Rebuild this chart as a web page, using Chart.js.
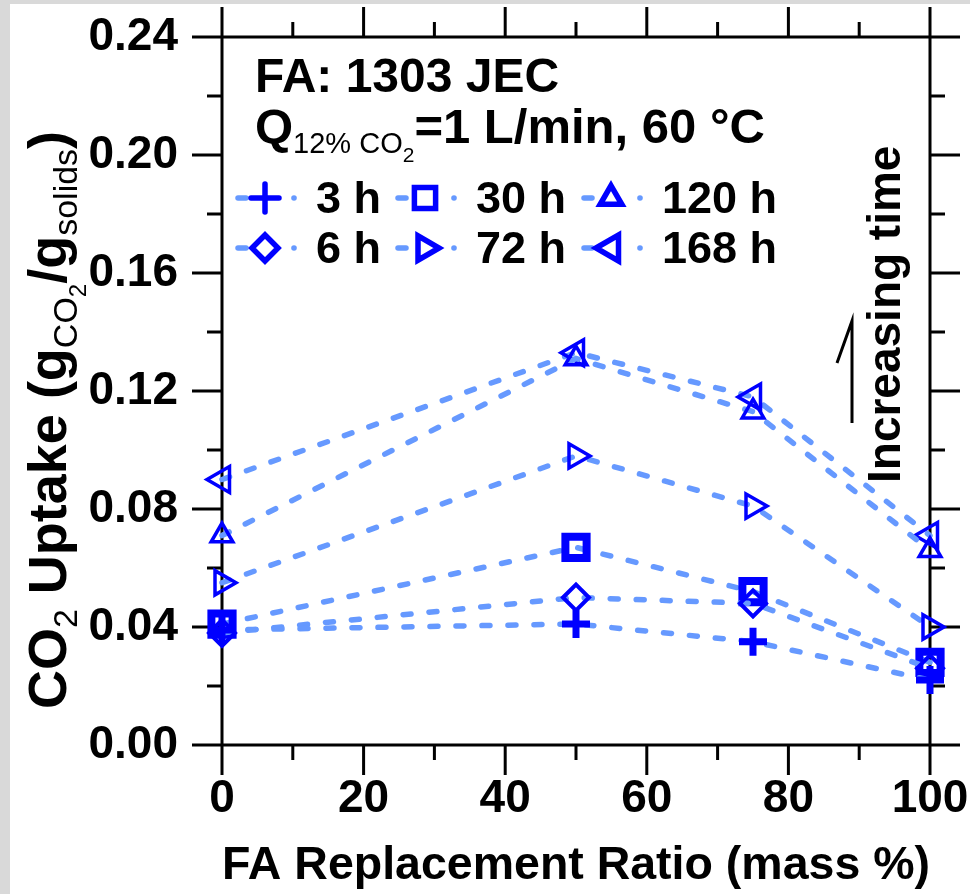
<!DOCTYPE html>
<html>
<head>
<meta charset="utf-8">
<script src="https://cdn.jsdelivr.net/npm/chart.js@4.4.1/dist/chart.umd.min.js"></script>
<style>
  html, body { margin: 0; padding: 0; background: #fff; }
  canvas { display: block; }
</style>
</head>
<body>
<canvas id="chart" width="970" height="894"></canvas>
<script>
// FA replacement ratio (mass %) and CO2 uptake per curing time
const ratios = [0, 50, 75, 100];
const uptake3h = [0.039, 0.041, 0.035, 0.022];
const uptake6h = [0.038, 0.050, 0.048, 0.026];
const uptake30h = [0.041, 0.067, 0.052, 0.028];
const uptake72h = [0.055, 0.098, 0.081, 0.040];
const uptake120h = [0.071, 0.131, 0.113, 0.066];
const uptake168h = [0.090, 0.133, 0.118, 0.071];
const seriesLabels = ['3 h', '6 h', '30 h', '72 h', '120 h', '168 h'];
const xTicks = [0, 20, 40, 60, 80, 100];
const yTicks = [0.00, 0.04, 0.08, 0.12, 0.16, 0.20, 0.24];

const FONT = "'Liberation Sans', Arial, sans-serif";
const lineBlue = 'rgb(102,153,255)';
const markBlue = '#0000ff';

const markers = [
  {style: 'cross', radius: 14, width: 7, rot: 0},
  {style: 'rectRot', radius: 13, width: 4, rot: 0},
  {style: 'rect', radius: 15, width: 8, rot: 0},
  {style: 'triangle', radius: 14, width: 3.5, rot: 90},
  {style: 'triangle', radius: 12.5, width: 3.5, rot: 0},
  {style: 'triangle', radius: 15, width: 3.5, rot: -90}
];
const allSeries = [uptake3h, uptake6h, uptake30h, uptake72h, uptake120h, uptake168h];

const datasets = allSeries.map((vals, i) => ({
  label: seriesLabels[i],
  data: ratios.map((r, j) => ({x: r, y: vals[j]})),
  borderColor: lineBlue,
  borderWidth: 5.5,
  borderDash: [8, 18],
  borderCapStyle: 'round',
  tension: 0,
  fill: false,
  clip: false,
  pointStyle: markers[i].style,
  pointRadius: markers[i].radius,
  pointBorderWidth: markers[i].width,
  pointRotation: markers[i].rot,
  pointBorderColor: markBlue,
  pointBackgroundColor: 'rgba(0,0,0,0)'
}));

function drawRich(c, parts, x, y) {
  // parts: [text, font, dy]
  let cx = x;
  parts.forEach(p => {
    c.font = p[1];
    c.fillText(p[0], cx, y + p[2]);
    cx += c.measureText(p[0]).width;
  });
  return cx - x;
}

function richWidth(c, parts) {
  let w = 0;
  parts.forEach(p => { c.font = p[1]; w += c.measureText(p[0]).width; });
  return w;
}

function noPad(s) {
  s.paddingTop = 0; s.paddingBottom = 0; s.paddingLeft = 0; s.paddingRight = 0;
}

const decor = {
  id: 'decor',
  beforeDraw(chart) {
    const c = chart.ctx;
    c.save();
    c.fillStyle = '#d9d9d9';
    c.fillRect(0, 0, chart.width, chart.height);
    c.fillStyle = '#fff';
    c.fillRect(10, 4, chart.width - 10, chart.height - 4);
    c.restore();
  },
  beforeDatasetsDraw(chart) {
    const c = chart.ctx;
    const {left, right, top, bottom} = chart.chartArea;
    const xs = chart.scales.x, ys = chart.scales.y;
    c.save();
    c.strokeStyle = '#000';
    c.lineWidth = 3;
    c.beginPath();
    c.moveTo(left - 30, top); c.lineTo(right + 30, top);
    c.moveTo(left - 30, bottom); c.lineTo(right + 30, bottom);
    c.moveTo(left, top - 30); c.lineTo(left, bottom + 30);
    c.moveTo(right, top - 30); c.lineTo(right, bottom + 30);
    for (let v = 10; v < 100; v += 10) {
      const len = v % 20 === 0 ? 30 : 15;
      const px = xs.getPixelForValue(v);
      c.moveTo(px, top); c.lineTo(px, top - len);
      c.moveTo(px, bottom); c.lineTo(px, bottom + len);
    }
    for (let k = 1; k < 12; k++) {
      const len = k % 2 === 0 ? 30 : 15;
      const py = ys.getPixelForValue(k * 0.02);
      c.moveTo(left, py); c.lineTo(left - len, py);
      c.moveTo(right, py); c.lineTo(right + len, py);
    }
    c.stroke();
    c.restore();
  },
  afterDraw(chart) {
    const c = chart.ctx;
    c.save();
    c.fillStyle = '#000';
    c.textBaseline = 'alphabetic';
    c.textAlign = 'left';

    // header text
    c.font = 'bold 48px ' + FONT;
    c.fillText('FA: 1303 JEC', 255, 92);
    drawRich(c, [
      ['Q', 'bold 49px ' + FONT, 0],
      ['12% CO', '29px ' + FONT, 10],
      ['2', '21px ' + FONT, 19],
      ['=1 L/min, 60 °C', 'bold 49px ' + FONT, 0]
    ], 255, 143);

    // legend
    const colX = [265, 425, 611];
    const rowY = [198, 248];
    chart.data.datasets.forEach((ds, i) => {
      const mx = colX[Math.floor(i / 2)];
      const my = rowY[i % 2];
      c.save();
      c.strokeStyle = ds.borderColor;
      c.lineWidth = 5.5;
      c.lineCap = 'round';
      c.beginPath();
      c.moveTo(mx - 27, my); c.lineTo(mx - 19, my);
      c.stroke();
      c.beginPath();
      c.arc(mx + 29, my, 2.8, 0, Math.PI * 2);
      c.fillStyle = ds.borderColor;
      c.fill();
      c.strokeStyle = ds.pointBorderColor;
      c.fillStyle = ds.pointBackgroundColor;
      Chart.helpers.drawPoint(c, {
        pointStyle: ds.pointStyle,
        radius: ds.pointRadius,
        rotation: ds.pointRotation,
        borderWidth: ds.pointBorderWidth
      }, mx, my);
      c.restore();
      c.font = 'bold 45px ' + FONT;
      c.fillText(ds.label, mx + 51, my + 15);
    });

    // increasing time
    c.save();
    c.translate(900, 483);
    c.rotate(-Math.PI / 2);
    c.font = 'bold 46px ' + FONT;
    c.fillText('Increasing time', 0, 0);
    c.restore();
    c.strokeStyle = '#000';
    c.lineWidth = 3;
    c.beginPath();
    c.moveTo(852, 423); c.lineTo(852, 321);
    c.lineTo(837, 363);
    c.stroke();

    // y axis title
    const parts = [
      ['CO', 'bold 54px ' + FONT, 0],
      ['2', '34px ' + FONT, 11],
      [' Uptake (g', 'bold 54px ' + FONT, 0],
      ['CO', '34px ' + FONT, 11],
      ['2', '24px ' + FONT, 20],
      ['/g', 'bold 54px ' + FONT, 0],
      ['solids', '34px ' + FONT, 11],
      [')', 'bold 54px ' + FONT, 0]
    ];
    const w = richWidth(c, parts);
    c.save();
    c.translate(66, 420);
    c.rotate(-Math.PI / 2);
    drawRich(c, parts, -w / 2, 0);
    c.restore();
    c.restore();
  }
};

const chart = new Chart(document.getElementById('chart'), {
  type: 'line',
  data: {datasets: datasets},
  options: {
    responsive: false,
    animation: false,
    layout: {padding: {top: 37, right: 40, left: 0, bottom: 0}},
    plugins: {legend: {display: false}, tooltip: {enabled: false}},
    scales: {
      x: {
        type: 'linear', min: 0, max: 100,
        afterFit: s => { s.height = 149; noPad(s); },
        afterBuildTicks: s => { s.ticks = xTicks.map(v => ({value: v})); },
        grid: {display: false, drawTicks: false},
        border: {display: false},
        ticks: {color: '#000', padding: 27, maxRotation: 0, autoSkip: false,
                font: {family: FONT, size: 46, weight: 'bold'}},
        title: {display: true, text: 'FA Replacement Ratio (mass %)', color: '#000',
                padding: {top: 4, bottom: 0},
                font: {family: FONT, size: 47, weight: 'bold'}}
      },
      y: {
        min: 0, max: 0.24,
        afterFit: s => { s.width = 222; noPad(s); },
        afterBuildTicks: s => { s.ticks = yTicks.map(v => ({value: v})); },
        grid: {display: false, drawTicks: false},
        border: {display: false},
        ticks: {color: '#000', padding: 44, callback: v => v.toFixed(2),
                font: {family: FONT, size: 46, weight: 'bold'}}
      }
    }
  },
  plugins: [decor]
});
</script>
</body>
</html>
